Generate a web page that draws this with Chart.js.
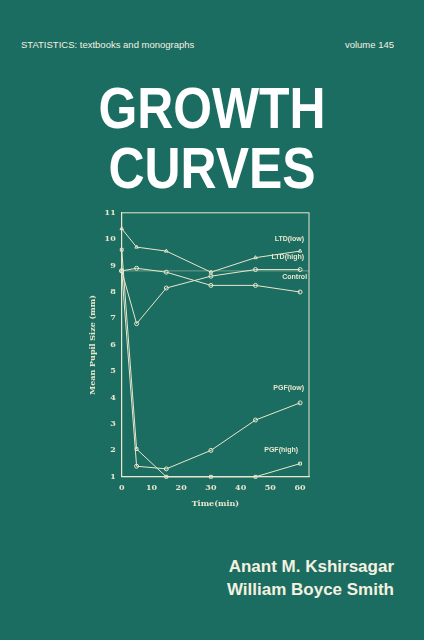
<!DOCTYPE html>
<html><head><meta charset="utf-8">
<script src="https://cdn.jsdelivr.net/npm/chart.js@4"></script>
<style>
body{margin:0;width:424px;height:640px;background:#1c6d61;position:relative;overflow:hidden;font-family:"Liberation Sans",Arial,sans-serif;color:#f4f1e0}
.t{position:absolute;white-space:nowrap}
.big{font-weight:bold;font-size:58px;left:212px;transform:translateX(-50%) scaleX(0.86);color:#fff}
#wrap{position:absolute;left:84px;top:205px;width:230px;height:308px}
</style></head><body>
<div class="t" style="left:21px;top:39px;font-size:9.5px">STATISTICS: textbooks and monographs</div>
<div class="t" style="right:30px;top:39px;font-size:9.5px">volume 145</div>
<div class="t big" style="top:74px">GROWTH</div>
<div class="t big" style="top:134px">CURVES</div>
<div class="t" style="right:30px;top:557px;font-size:17px;font-weight:bold">Anant M. Kshirsagar</div>
<div class="t" style="right:30px;top:580px;font-size:17px;font-weight:bold">William Boyce Smith</div>
<div id="wrap"><canvas id="c"></canvas></div>
<script>
const times = [0, 5, 15, 30, 45, 60];
const ltdLow = [10.4, 9.7, 9.55, 8.75, 9.3, 9.55];
const ltdHigh = [8.8, 6.8, 8.15, 8.6, 8.85, 8.85];
const control = [8.8, 8.9, 8.75, 8.25, 8.25, 8.0];
const pgfLow = [8.8, 1.4, 1.3, 2.0, 3.15, 3.8];
const pgfHigh = [9.6, 2.05, 1.0, 1.0, 1.0, 1.5];
const refLine = [8.8, 8.8];
const refTimes = [0, 63];
const seriesNames = ["LTD(low)", "LTD(high)", "Control", "PGF(low)", "PGF(high)"];

const ink = "#e9e6cc";
const mk = (name, vals, style) => ({
    label: name,
    data: times.map((t, i) => ({x: t, y: vals[i]})),
    borderColor: ink, backgroundColor: "rgba(0,0,0,0)",
    borderWidth: 1, pointStyle: style, pointRadius: 2,
    pointBorderColor: ink, pointBorderWidth: 1, clip: false,
});

const labelOffsets = {"LTD(low)": [-8, -10], "LTD(high)": [-8, -11], "Control": [-5, -13], "PGF(low)": [-8, -13], "PGF(high)": [-14, -12]};

const deco = {
    id: "deco",
    afterDatasetsDraw(chart) {
        const {ctx, chartArea: a} = chart;
        ctx.save();
        ctx.strokeStyle = ink; ctx.lineWidth = 1;
        ctx.strokeRect(a.left, a.top, a.right - a.left, a.bottom - a.top);
        ctx.fillStyle = ink;
        ctx.font = "bold 7px 'Liberation Sans'";
        ctx.textAlign = "right";
        chart.data.datasets.forEach((ds, i) => {
            if (!seriesNames.includes(ds.label)) return;
            const p = chart.getDatasetMeta(i).data[5];
            const o = labelOffsets[ds.label];
            ctx.fillText(ds.label, p.x + o[0] + 12, p.y + o[1]);
        });
        ctx.restore();
    }
};

new Chart(document.getElementById("c"), {
    type: "line",
    data: {
        datasets: [
            mk("LTD(low)", ltdLow, "triangle"),
            mk("LTD(high)", ltdHigh, "circle"),
            mk("Control", control, "circle"),
            mk("PGF(low)", pgfLow, "circle"),
            mk("PGF(high)", pgfHigh, "rect"),
            {label: "ref", data: refTimes.map((t, i) => ({x: t, y: refLine[i]})), borderColor: "rgba(233,230,204,0.6)", borderWidth: 0.7, pointRadius: 0},
        ],
    },
    options: {
        animation: false,
        responsive: true,
        maintainAspectRatio: false,
        plugins: {legend: {display: false}, tooltip: {enabled: false}},
        scales: {
            x: {
                type: "linear", min: 0, max: 63,
                afterBuildTicks: s => { s.ticks = [0, 10, 20, 30, 40, 50, 60].map(v => ({value: v})); },
                grid: {display: false, drawTicks: true, tickLength: 3, tickColor: ink},
                border: {color: ink},
                ticks: {autoSkip: false, maxRotation: 0, color: ink, font: {family: "DejaVu Serif", size: 8, weight: "bold"}},
                title: {display: true, text: "Time(min)", color: ink, font: {family: "DejaVu Serif", size: 8, weight: "bold"}},
            },
            y: {
                min: 1, max: 11,
                grid: {display: false, tickLength: 3, tickColor: ink},
                border: {color: ink},
                ticks: {stepSize: 1, color: ink, font: {family: "DejaVu Serif", size: 8, weight: "bold"}},
                title: {display: true, text: "Mean Pupil Size (mm)", color: ink, font: {family: "DejaVu Serif", size: 8, weight: "bold"}},
            },
        },
    },
    plugins: [deco],
});
</script>
</body></html>
